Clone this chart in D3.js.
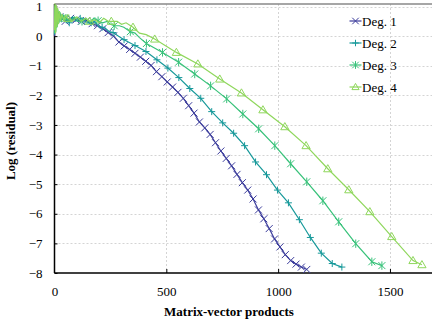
<!DOCTYPE html>
<html><head><meta charset="utf-8">
<script src="https://cdn.jsdelivr.net/npm/d3@7"></script>
<style>
body{margin:0;background:#fff}
svg{display:block}
svg text{font-family:"Liberation Serif","Times New Roman",Times,serif !important;}
</style>
</head><body>
<script>
// ---------- data ----------
const seriesNames = ["Deg. 1", "Deg. 2", "Deg. 3", "Deg. 4"];
const xTicks = [0, 500, 1000, 1500];
const yTicks = [1, 0, -1, -2, -3, -4, -5, -6, -7, -8];

// noisy start of each curve (line only)
const deg1HeadX = [0, 3, 6, 9, 12, 15, 18, 21];
const deg1HeadY = [0.0, 0.9, 0.3, 0.8, 0.4, 0.75, 0.45, 0.65];
const deg2HeadX = [0, 2, 4, 6, 8, 10, 12, 14, 30, 42, 55, 80, 95, 130, 145, 180, 195, 230, 245, 285];
const deg2HeadY = [0.05, 1.0, 0.2, 0.95, 0.3, 0.85, 0.4, 0.8, 0.5, 0.7, 0.55, 0.65, 0.5, 0.55, 0.45, 0.5, 0.35, 0.25, 0.15, 0.0];
const deg3HeadX = [0, 3, 6, 9, 12, 15, 20, 25, 30, 38, 45, 70, 90, 105, 140, 160, 175, 215, 235, 250, 290, 310, 360, 380];
const deg3HeadY = [0.1, 1.05, 0.15, 0.95, 0.3, 0.9, 0.45, 0.8, 0.5, 0.7, 0.55, 0.5, 0.65, 0.5, 0.6, 0.45, 0.6, 0.45, 0.5, 0.4, 0.35, 0.3, 0.1, -0.05];
const deg4HeadX = [0, 2, 5, 8, 11, 14, 18, 22, 27, 33, 40, 48, 80, 100, 120, 140, 180, 200, 220, 240, 280, 300, 320, 380, 410];
const deg4HeadY = [0.2, 1.1, 0.1, 1.05, 0.3, 0.95, 0.4, 0.85, 0.5, 0.75, 0.55, 0.7, 0.5, 0.65, 0.5, 0.6, 0.55, 0.45, 0.6, 0.5, 0.5, 0.4, 0.45, 0.1, 0.05];

// marked points of each curve
const deg1X = [24, 48, 72, 96, 120, 144, 168, 192, 216, 240, 264, 288, 312, 336, 360, 384, 408, 432, 456, 480,
  504, 528, 552, 576, 600, 624, 648, 672, 696, 720, 744, 768, 792, 816, 840, 864, 888, 912, 936, 960,
  984, 1008, 1032, 1056, 1080, 1104, 1128];
const deg1Y = [0.65, 0.5, 0.6, 0.55, 0.5, 0.52, 0.42, 0.35, 0.25, 0.12, 0.0, -0.2, -0.33, -0.45, -0.58, -0.71, -0.85, -0.99, -1.2, -1.37,
  -1.55, -1.72, -1.9, -2.1, -2.35, -2.6, -2.9, -3.1, -3.32, -3.6, -3.88, -4.13, -4.38, -4.67, -4.95, -5.2, -5.5, -5.87, -6.17, -6.5,
  -6.85, -7.12, -7.38, -7.58, -7.7, -7.8, -7.88];
const deg2X = [17, 66, 115, 164, 213, 262, 311, 360, 409, 458, 507, 556, 605, 654, 703, 752, 801, 850, 899, 948, 997, 1046, 1095, 1144, 1193, 1242, 1285];
const deg2Y = [0.7, 0.45, 0.6, 0.45, 0.3, 0.12, -0.12, -0.32, -0.52, -0.8, -1.08, -1.4, -1.77, -2.1, -2.55, -2.93, -3.28, -3.7, -4.25, -4.68, -5.2, -5.63, -6.2, -6.8, -7.33, -7.68, -7.8];
const deg3X = [51, 123, 195, 267, 339, 411, 483, 555, 627, 698, 770, 842, 913, 985, 1056, 1128, 1200, 1271, 1347, 1419, 1464];
const deg3Y = [0.6, 0.5, 0.52, 0.35, 0.15, -0.25, -0.55, -0.88, -1.28, -1.68, -2.12, -2.63, -3.13, -3.7, -4.31, -4.92, -5.56, -6.27, -7.01, -7.62, -7.75];
const deg4X = [60, 157, 254, 351, 448, 545, 641, 739, 836, 932, 1030, 1125, 1222, 1316, 1410, 1508, 1603, 1643];
const deg4Y = [0.6, 0.5, 0.5, 0.3, -0.1, -0.55, -0.94, -1.45, -1.92, -2.49, -3.06, -3.7, -4.48, -5.19, -5.93, -6.77, -7.58, -7.72];

// ---------- chart ----------
const W = 432, H = 324;
const colors = ["#3c3d9c", "#17999a", "#38c27a", "#8fd75c"];
const markerTypes = ["x", "plus", "star", "tri"];

const svg = d3.select("body").append("svg").attr("width", W).attr("height", H);

const x = d3.scaleLinear().domain([0, 1688]).range([54.5, 432]);
const y = d3.scaleLinear().domain([-8, 1]).range([273, 6.5]);

// grid
svg.append("g").selectAll("line").data(yTicks.filter(d => d > -8)).join("line")
  .attr("x1", x(0)).attr("x2", W).attr("y1", d => Math.round(y(d)) + 0.5).attr("y2", d => Math.round(y(d)) + 0.5)
  .attr("stroke", "#d4d4d4").attr("stroke-dasharray", "2,2");
svg.append("g").selectAll("line").data(xTicks.filter(d => d > 0)).join("line")
  .attr("y1", 4).attr("y2", y(-8)).attr("x1", d => Math.round(x(d)) + 0.5).attr("x2", d => Math.round(x(d)) + 0.5)
  .attr("stroke", "#d4d4d4").attr("stroke-dasharray", "2,2");

// top frame
svg.append("line").attr("x1", x(0)).attr("x2", W).attr("y1", 4).attr("y2", 4)
  .attr("stroke", "#888").attr("stroke-width", 1.5);

// axes
const yAxis = d3.axisLeft(y).tickValues(yTicks).tickSize(-3).tickPadding(12).tickFormat(d3.format("d"));
const gy = svg.append("g").attr("transform", `translate(${x(0)},0)`).call(yAxis);
const xAxis = d3.axisBottom(x).tickValues(xTicks).tickSize(-4).tickPadding(14).tickFormat(d3.format("d"));
const gx = svg.append("g").attr("transform", `translate(0,${y(-8)})`).call(xAxis);
[gx, gy].forEach(g => {
  g.select(".domain").attr("stroke", "#000").attr("stroke-width", 1.5);
  g.selectAll(".tick line").attr("stroke", "#000");
  g.selectAll(".tick text").attr("font-size", 13).attr("fill", "#000");
});
gy.select(".domain").attr("d", `M0,${y(-8)}V4`);
gx.select(".domain").attr("d", `M${x(0)},0H${W}`);
gx.selectAll(".tick").filter(d => d === 0).select("line").remove();

// axis titles
svg.append("text").attr("x", 229).attr("y", 316).attr("text-anchor", "middle")
  .attr("font-size", 13).attr("font-weight", "bold").text("Matrix-vector products");
svg.append("text").attr("transform", "translate(15,141) rotate(-90)").attr("text-anchor", "middle")
  .attr("font-size", 13).attr("font-weight", "bold").text("Log (residual)");

// series
const series = [
  {head: d3.zip(deg1HeadX, deg1HeadY), main: d3.zip(deg1X, deg1Y)},
  {head: d3.zip(deg2HeadX, deg2HeadY), main: d3.zip(deg2X, deg2Y)},
  {head: d3.zip(deg3HeadX, deg3HeadY), main: d3.zip(deg3X, deg3Y)},
  {head: d3.zip(deg4HeadX, deg4HeadY), main: d3.zip(deg4X, deg4Y)}
];
const line = d3.line().x(d => x(d[0])).y(d => y(d[1]));

function markerPath(type, s) {
  const h = s / 2;
  if (type === "x") return `M${-h},${-h}L${h},${h}M${-h},${h}L${h},${-h}`;
  if (type === "plus") return `M${-h},0L${h},0M0,${-h}L0,${h}`;
  if (type === "star") return `M${-h},${-h}L${h},${h}M${-h},${h}L${h},${-h}M0,${-h * 1.2}L0,${h * 1.2}`;
  return `M0,${-h * 1.1}L${h * 1.1},${h * 0.8}L${-h * 1.1},${h * 0.8}Z`;
}

series.forEach((s, i) => {
  const pts = s.head.concat(s.main).sort((a, b) => a[0] - b[0]);
  svg.append("path").attr("d", line(pts)).attr("fill", "none")
    .attr("stroke", colors[i]).attr("stroke-width", 1.2);
  svg.append("g").selectAll("path").data(s.main).join("path")
    .attr("transform", d => `translate(${x(d[0])},${y(d[1])})`)
    .attr("d", markerPath(markerTypes[i], i === 3 ? 7.5 : 7))
    .attr("fill", "none").attr("stroke", colors[i]).attr("stroke-width", 1);
});

// legend
const legY = [21, 43, 65, 87];
seriesNames.forEach((name, i) => {
  const g = svg.append("g").attr("transform", `translate(355.5,${legY[i]})`);
  g.append("line").attr("x1", -6).attr("x2", 6).attr("stroke", colors[i]).attr("stroke-width", 1.2);
  g.append("path").attr("d", markerPath(markerTypes[i], 6.5)).attr("fill", "none").attr("stroke", colors[i]);
  g.append("text").attr("x", 6.5).attr("dy", "0.35em").attr("font-size", 13).attr("fill", "#000").text(name);
});
</script>
</body></html>
